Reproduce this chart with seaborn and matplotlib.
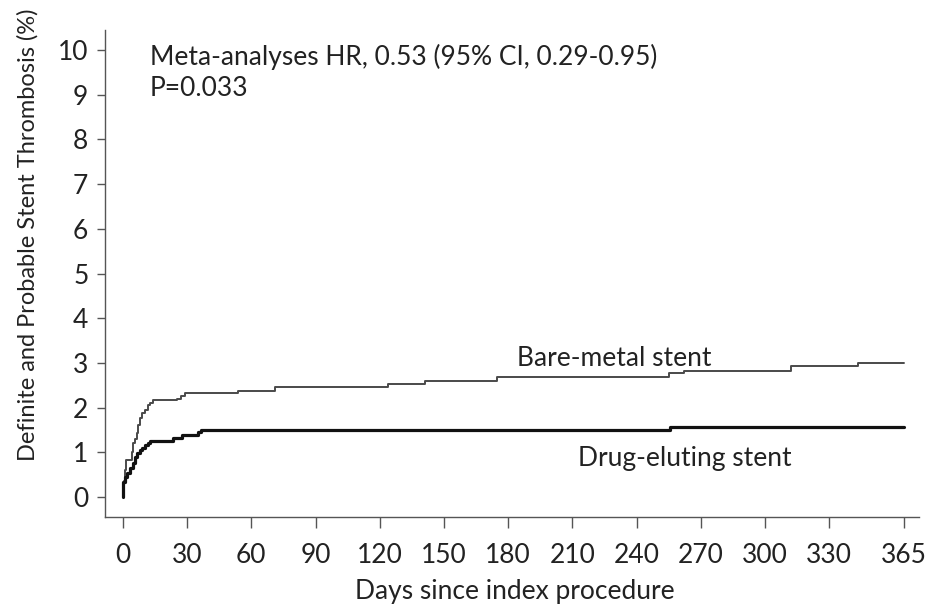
import matplotlib
matplotlib.use("Agg")
import matplotlib.pyplot as plt
import numpy as np
import pandas as pd
import seaborn as sns

# Cumulative incidence of definite/probable stent thrombosis (%), step times in days
bms_days = [0, 0.3, 1.0, 1.5, 4.0, 4.5, 5.5, 6.4, 7.2, 8.0, 9.0, 10.3, 11.5, 12.6, 14.0,
            25.2, 27.0, 29.0, 53.7, 71.0, 124.0, 141.0, 175.0, 255.0, 262.0, 312.0, 343.5, 365.0]
bms_pct = [0.0, 0.35, 0.6, 0.83, 1.0, 1.2, 1.3, 1.43, 1.6, 1.77, 1.88, 1.95, 2.05, 2.1, 2.17,
           2.2, 2.26, 2.33, 2.37, 2.45, 2.53, 2.6, 2.68, 2.77, 2.82, 2.94, 3.0, 3.0]

des_days = [0, 0.2, 1.0, 2.0, 3.3, 4.7, 5.6, 6.5, 8.0, 9.0, 10.3, 11.5, 12.6,
            23.2, 27.6, 35.0, 36.5, 255.6, 365.0]
des_pct = [0.0, 0.34, 0.45, 0.53, 0.65, 0.76, 0.9, 0.98, 1.05, 1.1, 1.16, 1.2, 1.25,
           1.32, 1.39, 1.45, 1.5, 1.57, 1.57]

x_ticks = [0, 30, 60, 90, 120, 150, 180, 210, 240, 270, 300, 330, 365]
y_ticks = list(range(0, 11))

bms = pd.DataFrame({"day": bms_days, "pct": bms_pct})
des = pd.DataFrame({"day": des_days, "pct": des_pct})

sns.set_style("ticks")
plt.rcParams["font.family"] = ["Lato", "DejaVu Sans"]
ink = "#222222"
axis_col = "#555555"

fig = plt.figure(figsize=(9.29, 6.04), dpi=100)
ax = fig.add_axes([105 / 929, 87 / 604, 814 / 929, 487 / 604])

sns.lineplot(data=bms, x="day", y="pct", ax=ax, estimator=None, drawstyle="steps-post",
             color="#4a4a4a", linewidth=1.4)
sns.lineplot(data=des, x="day", y="pct", ax=ax, estimator=None, drawstyle="steps-post",
             color="#111111", linewidth=2.3)

ax.set_xlim(-8.4, 372)
ax.set_ylim(-0.45, 10.45)
ax.set_xticks(x_ticks)
ax.set_xticklabels([str(t) for t in x_ticks])
ax.set_yticks(y_ticks)
ax.set_yticklabels([str(t) for t in y_ticks])

sns.despine(ax=ax)
for side in ("left", "bottom"):
    ax.spines[side].set_color(axis_col)
    ax.spines[side].set_linewidth(1.0)
ax.tick_params(axis="both", direction="out", color=axis_col, width=1.0,
               labelsize=19, labelcolor=ink)
ax.tick_params(axis="x", length=8, pad=11)
ax.tick_params(axis="y", length=6, pad=6)

ax.set_xlabel("Days since index procedure", fontsize=19, color=ink)
ax.xaxis.set_label_coords(0.503, -0.153)
ax.xaxis.label.set_va("center")
ax.set_ylabel("Definite and Probable Stent Thrombosis (%)", fontsize=17, color=ink)
ax.yaxis.set_label_coords(-0.095, 0.579)
ax.yaxis.label.set_va("center")
ax.yaxis.label.set_ha("center")

ax.text(0.055, 0.9446, "Meta-analyses HR, 0.53 (95% CI, 0.29-0.95)", transform=ax.transAxes,
        fontsize=19, color=ink, ha="left", va="center")
ax.text(0.055, 0.879, "P=0.033", transform=ax.transAxes,
        fontsize=19, color=ink, ha="left", va="center")

ax.text(184, 3.1, "Bare-metal stent", fontsize=19, color=ink, ha="left", va="center")
ax.text(212.6, 0.86, "Drug-eluting stent", fontsize=19, color=ink, ha="left", va="center")

fig.savefig("out.png", dpi=100, facecolor="white")
